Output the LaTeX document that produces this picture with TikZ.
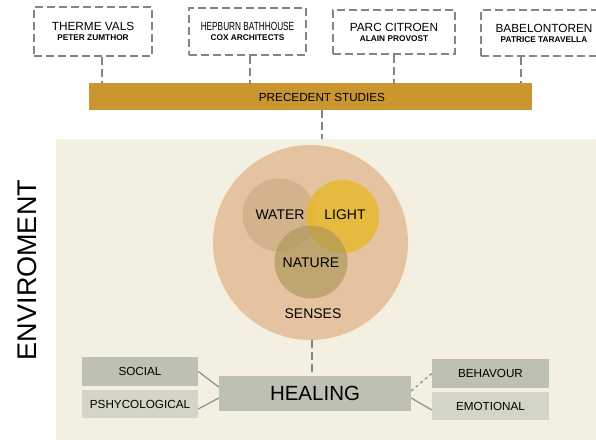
\documentclass[tikz,border=0pt]{standalone}
\usepackage{fontspec}
\setmainfont{Liberation Sans}
\newfontfamily\narrowfont[FakeStretch=0.7]{Liberation Sans}
\usetikzlibrary{positioning}
\definecolor{panel}{HTML}{F4F0E1}
\definecolor{gold}{HTML}{C9962F}
\definecolor{dashgray}{HTML}{7E8983}
\definecolor{linegray}{HTML}{8C9089}
\definecolor{peach}{HTML}{E5C3A0}
\definecolor{watertan}{HTML}{C7A980}
\definecolor{lightyellow}{HTML}{E5B92F}
\definecolor{natureolive}{HTML}{AC9655}
\definecolor{tagdark}{HTML}{BEC0B2}
\definecolor{taglight}{HTML}{D4D5C7}
\tikzstyle{study} = [draw=dashgray, line width=2pt, dash pattern=on 8pt off 4pt, align=center, inner sep=0pt, font=\fontsize{8.3}{10}\selectfont\bfseries]
\tikzstyle{link} = [draw=dashgray, line width=2pt, dash pattern=on 8pt off 4pt]
\tikzstyle{tag} = [rectangle, minimum width=116pt, minimum height=28pt, inner sep=0pt, font=\fontsize{11.7}{13}\selectfont]
\tikzstyle{thin} = [draw=linegray, line width=1.2pt]
\tikzstyle{sense} = [circle, minimum size=73pt, inner sep=0pt]
\newcommand{\titlefont}{\mdseries\fontsize{11.8}{10}\selectfont}

\begin{document}
\begin{tikzpicture}[x=1pt, y=-1pt]
  \useasboundingbox (0,0) rectangle (596,439);

  % case studies
  \node[study, minimum width=118pt, minimum height=49pt] (vals) at (93,31.5) {{\titlefont THERME VALS}\\PETER ZUMTHOR};
  \node[study, minimum width=117pt, minimum height=47pt] (hepburn) at (247.5,31.5) {{\titlefont\narrowfont HEPBURN BATHHOUSE}\\COX ARCHITECTS};
  \node[study, minimum width=122pt, minimum height=44pt] (citroen) at (394,32) {{\titlefont PARC CITROEN}\\ALAIN PROVOST};
  \node[study, minimum width=126pt, minimum height=46pt] (babel) at (544,33) {{\titlefont BABELONTOREN}\\PATRICE TARAVELLA};

  \node[fill=gold, minimum width=443pt, minimum height=27pt, inner sep=0pt] (bar) at (310.5,96.5) {};
  \node[font=\fontsize{11.7}{13}\selectfont] (prec) at (322,97) {PRECEDENT STUDIES};

  \draw[link] ([xshift=9pt]vals.south) -- ([xshift=9pt]vals.south |- bar.north);
  \draw[link] ([xshift=2.5pt]hepburn.south) -- ([xshift=2.5pt]hepburn.south |- bar.north);
  \draw[link] (citroen.south) -- (citroen.south |- bar.north);
  \draw[link] ([xshift=-23pt]babel.south) -- ([xshift=-23pt]babel.south |- bar.north);

  % environment
  \node[fill=panel, minimum width=544pt, minimum height=306pt, inner sep=0pt] (env) at (328,292) {};
  \node[rotate=90, font=\fontsize{27}{30}\selectfont] (envtext) at (27.5,270) {ENVIROMENT};
  \draw[link] ([xshift=11.5pt]bar.south) -- ([xshift=11.5pt]bar.south |- env.north);

  % senses
  \node[circle, fill=peach, minimum size=195pt, inner sep=0pt] (senses) at (310.5,242.5) {};
  \node[sense, fill=watertan, fill opacity=0.6] (water) at (279,215) {};
  \node[sense, fill=lightyellow, fill opacity=0.85] (light) at (342.5,216.5) {};
  \node[sense, fill=natureolive, fill opacity=0.65] (nature) at (311,262) {};
  \begin{scope}[font=\fontsize{14}{16}\selectfont]
    \node (watertext) at (280,215) {WATER};
    \node (lighttext) at (345,215) {LIGHT};
    \node (naturetext) at (311,263) {NATURE};
    \node (sensestext) at (313,314) {SENSES};
  \end{scope}

  % healing
  \node[fill=tagdark, minimum width=192pt, minimum height=35pt, inner sep=0pt, font=\fontsize{20.5}{24}\selectfont] (healing) at (315,393.5) {HEALING};
  \draw[link] ([xshift=1.5pt]senses.south) -- ([xshift=1.5pt]senses.south |- healing.north);

  \node[tag, fill=tagdark, minimum height=29pt] (social) at (140,371.5) {SOCIAL};
  \node[tag, fill=taglight] (psy) at (140,404) {PSHYCOLOGICAL};
  \node[tag, fill=tagdark, minimum width=117pt, minimum height=29pt] (behav) at (490.5,373.5) {BEHAVOUR};
  \node[tag, fill=taglight, minimum width=117pt] (emo) at (490.5,406) {EMOTIONAL};

  \draw[thin] (social.east) -- ([yshift=6.5pt]healing.west);
  \draw[thin] ([yshift=-5pt]psy.east) -- ([yshift=-4.5pt]healing.west);
  \draw[thin, dashed] ([yshift=2.5pt]healing.east) -- (behav.west);
  \draw[thin] ([yshift=-4.5pt]healing.east) -- ([yshift=-4pt]emo.west);
\end{tikzpicture}
\end{document}
